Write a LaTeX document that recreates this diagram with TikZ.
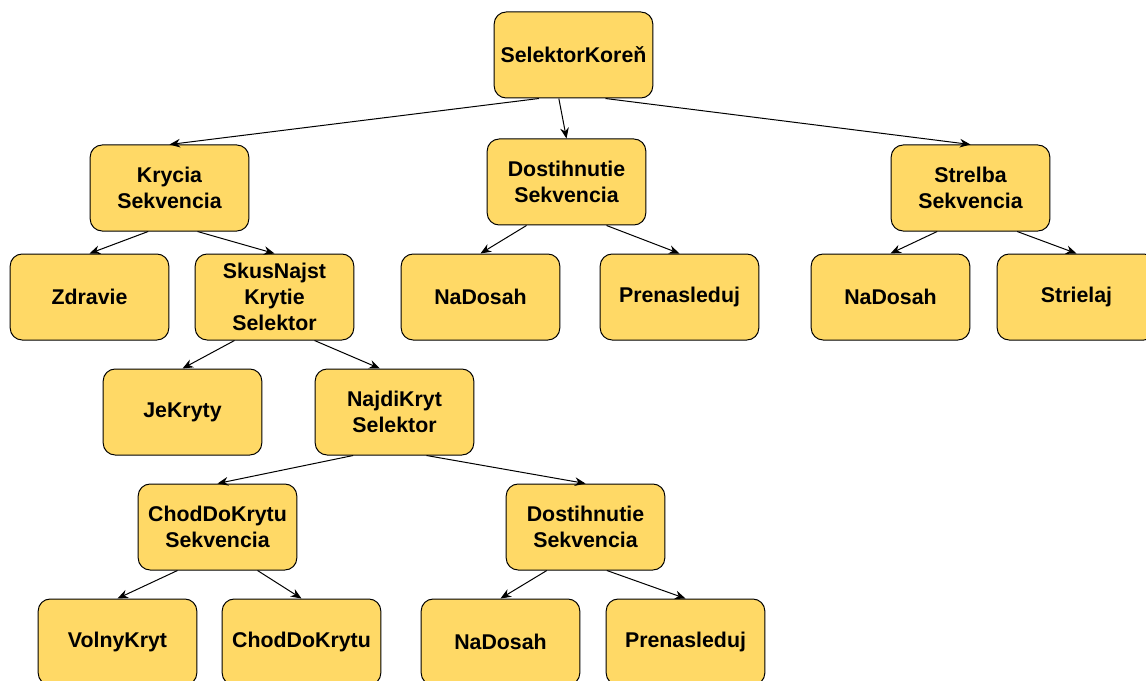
\documentclass[tikz,border=0pt]{standalone}
\usepackage{fontspec}
\setmainfont{Liberation Sans}
\usepackage{xcolor}
\usetikzlibrary{arrows.meta}
\definecolor{uzolfill}{HTML}{FFD966}

\begin{document}
\begin{tikzpicture}[x=0.75pt,y=0.75pt,yscale=-1,xscale=1,
  uzol/.style={draw=black, fill=uzolfill, line width=0.75pt, rounded corners=9pt,
    minimum width=119pt, minimum height=64.5pt, inner sep=0pt, align=center,
    font=\fontsize{16}{19.5}\selectfont\bfseries},
  hrana/.style={-{Stealth[length=8pt,width=6.5pt]}, line width=0.75pt}]
%set diagram size
\path[use as bounding box] (0,0) rectangle (1146,681);

% Root
\node[uzol] (koren) at (573.5,55) {SelektorKoreň};
% Level 1
\node[uzol] (krycia) at (169.5,188) {Krycia\\Sekvencia};
\node[uzol] (dostA) at (566.5,182) {Dostihnutie\\Sekvencia};
\node[uzol] (strelba) at (970.5,188) {Strelba\\Sekvencia};
% Level 2
\node[uzol] (zdravie) at (89.5,297) {Zdravie};
\node[uzol] (skus) at (274.5,297) {SkusNajst\\Krytie\\Selektor};
\node[uzol] (naDosahA) at (480.5,297) {NaDosah};
\node[uzol] (prenasledujA) at (679.5,297) {Prenasleduj};
\node[uzol] (naDosahB) at (890.5,297) {NaDosah};
\node[uzol] (strielaj) at (1076.5,297) {Strielaj};
% Level 3
\node[uzol] (jeKryty) at (182.5,412) {JeKryty};
\node[uzol] (najdi) at (394.5,412) {NajdiKryt\\Selektor};
% Level 4
\node[uzol] (chodSek) at (217.5,527) {ChodDoKrytu\\Sekvencia};
\node[uzol] (dostB) at (585.5,527) {Dostihnutie\\Sekvencia};
% Level 5
\node[uzol] (volny) at (117.5,642) {VolnyKryt};
\node[uzol] (chod) at (301.5,642) {ChodDoKrytu};
\node[uzol] (naDosahC) at (500.5,642) {NaDosah};
\node[uzol] (prenasledujC) at (685.5,642) {Prenasleduj};

%Edges
\draw[hrana] ([xshift=-26pt]koren.south) -- (krycia.north);
\draw[hrana] ([xshift=-11pt]koren.south) -- (dostA.north);
\draw[hrana] ([xshift=24pt]koren.south) -- (strelba.north);

\draw[hrana] ([xshift=-16pt]krycia.south) -- (zdravie.north);
\draw[hrana] ([xshift=21pt]krycia.south) -- (skus.north);
\draw[hrana] ([xshift=-30pt]dostA.south) -- (naDosahA.north);
\draw[hrana] ([xshift=30pt]dostA.south) -- (prenasledujA.north);
\draw[hrana] ([xshift=-25pt]strelba.south) -- (naDosahB.north);
\draw[hrana] ([xshift=35pt]strelba.south) -- (strielaj.north);

\draw[hrana] ([xshift=-30pt]skus.south) -- (jeKryty.north);
\draw[hrana] ([xshift=30pt]skus.south) -- ([xshift=-11pt]najdi.north);

\draw[hrana] ([xshift=-31pt]najdi.south) -- (chodSek.north);
\draw[hrana] ([xshift=24pt]najdi.south) -- (dostB.north);

\draw[hrana] ([xshift=-30pt]chodSek.south) -- (volny.north);
\draw[hrana] ([xshift=30pt]chodSek.south) -- (chod.north);
\draw[hrana] ([xshift=-29pt]dostB.south) -- (naDosahC.north);
\draw[hrana] ([xshift=16pt]dostB.south) -- (prenasledujC.north);

\end{tikzpicture}
\end{document}
